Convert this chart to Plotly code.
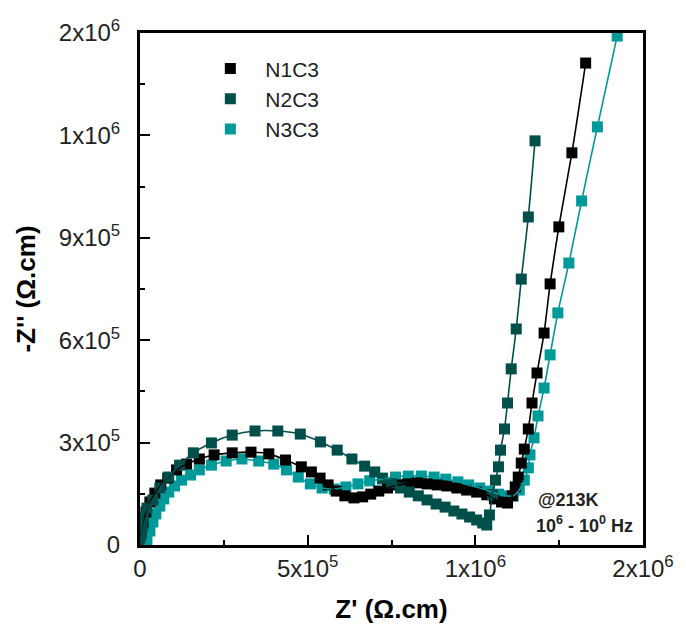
import plotly.graph_objects as go

# ---- data ----
n1_x = [0, 2.95e3, 8.9e3, 1.77e4, 2.95e4, 4.43e4, 6.20e4, 8.27e4, 1.09e5, 1.39e5, 1.77e5, 2.21e5,
        2.75e5, 3.31e5, 3.84e5, 4.34e5, 4.81e5, 5.11e5, 5.37e5, 5.61e5, 5.85e5, 6.11e5, 6.38e5,
        6.64e5, 6.88e5, 7.12e5, 7.38e5, 7.68e5, 7.97e5, 8.27e5, 8.56e5, 8.86e5, 9.15e5, 9.45e5,
        9.74e5, 1.004e6, 1.034e6, 1.057e6, 1.078e6, 1.096e6, 1.110e6, 1.119e6, 1.128e6, 1.137e6,
        1.146e6, 1.158e6, 1.169e6, 1.184e6, 1.205e6, 1.223e6, 1.249e6, 1.288e6, 1.329e6]
n1_y = [0, 2.93e4, 6.45e4, 9.67e4, 1.26e5, 1.52e5, 1.76e5, 1.96e5, 2.20e5, 2.37e5, 2.52e5, 2.64e5,
        2.70e5, 2.72e5, 2.67e5, 2.49e5, 2.29e5, 2.14e5, 1.96e5, 1.76e5, 1.58e5, 1.44e5, 1.38e5,
        1.41e5, 1.49e5, 1.58e5, 1.67e5, 1.76e5, 1.79e5, 1.82e5, 1.79e5, 1.76e5, 1.73e5, 1.67e5,
        1.61e5, 1.55e5, 1.47e5, 1.35e5, 1.26e5, 1.23e5, 1.44e5, 1.70e5, 1.99e5, 2.40e5,
        2.81e5, 3.40e5, 4.16e5, 5.04e5, 6.21e5, 7.65e5, 9.32e5, 1.149e6, 1.412e6]

n2_x = [0, 3.0e3, 5.9e3, 8.9e3, 2.07e4, 3.84e4, 5.91e4, 8.56e4, 1.18e5, 1.59e5, 2.13e5, 2.75e5,
        3.43e5, 4.11e5, 4.78e5, 5.38e5, 5.88e5, 6.32e5, 6.70e5, 7.00e5, 7.23e5, 7.50e5, 7.77e5,
        8.03e5, 8.30e5, 8.56e5, 8.83e5, 9.10e5, 9.36e5, 9.60e5, 9.83e5, 1.004e6, 1.022e6, 1.034e6,
        1.042e6, 1.051e6, 1.060e6, 1.069e6, 1.075e6, 1.087e6, 1.096e6, 1.107e6, 1.122e6, 1.137e6,
        1.158e6, 1.178e6]
n2_y = [0, 2.6e4, 5.27e4, 8.2e4, 1.08e5, 1.32e5, 1.67e5, 1.99e5, 2.34e5, 2.70e5, 2.99e5, 3.22e5,
        3.34e5, 3.34e5, 3.25e5, 3.02e5, 2.78e5, 2.52e5, 2.31e5, 2.14e5, 1.96e5, 1.82e5, 1.67e5,
        1.55e5, 1.44e5, 1.32e5, 1.20e5, 1.11e5, 9.96e4, 9.08e4, 8.20e4, 7.33e4, 6.45e4, 5.86e4,
        8.8e4, 1.47e5, 1.90e5, 2.29e5, 2.78e5, 3.40e5, 4.16e5, 5.16e5, 6.33e5, 7.79e5,
        9.61e5, 1.184e6]

n3_x = [1.48e4, 2.07e4, 2.95e4, 3.84e4, 4.72e4, 5.91e4, 7.09e4, 8.56e4, 1.03e5, 1.24e5, 1.51e5,
        1.77e5, 2.13e5, 2.57e5, 3.04e5, 3.54e5, 3.99e5, 4.37e5, 4.72e5, 5.08e5, 5.43e5, 5.79e5,
        6.14e5, 6.50e5, 6.85e5, 7.23e5, 7.62e5, 8.00e5, 8.39e5, 8.77e5, 9.12e5, 9.48e5, 9.80e5,
        1.013e6, 1.042e6, 1.069e6, 1.093e6, 1.113e6, 1.131e6, 1.146e6, 1.158e6, 1.163e6, 1.175e6,
        1.187e6, 1.205e6, 1.223e6, 1.246e6, 1.279e6, 1.317e6, 1.364e6, 1.423e6]
n3_y = [0, 1.47e4, 4.10e4, 6.74e4, 9.08e4, 1.14e5, 1.35e5, 1.55e5, 1.73e5, 1.90e5, 2.05e5,
        2.20e5, 2.34e5, 2.46e5, 2.52e5, 2.46e5, 2.37e5, 2.20e5, 1.99e5, 1.79e5, 1.67e5, 1.64e5,
        1.70e5, 1.79e5, 1.88e5, 1.93e5, 1.99e5, 2.02e5, 2.02e5, 1.99e5, 1.93e5, 1.85e5, 1.76e5,
        1.67e5, 1.58e5, 1.49e5, 1.44e5, 1.44e5, 1.61e5, 1.90e5, 2.26e5, 2.64e5, 3.14e5,
        3.78e5, 4.60e5, 5.57e5, 6.80e5, 8.26e5, 1.008e6, 1.225e6, 1.491e6]

names = ["N1C3", "N2C3", "N3C3"]
colors = ["#000000", "#004f4a", "#00999a"]

x_tickvals = [0, 5e5, 1e6, 1.5e6]
x_ticktext = ["0", "5x10<sup>5</sup>", "1x10<sup>6</sup>", "2x10<sup>6</sup>"]
y_tickvals = [0, 3e5, 6e5, 9e5, 1.2e6, 1.5e6]
y_ticktext = ["0", "3x10<sup>5</sup>", "6x10<sup>5</sup>", "9x10<sup>5</sup>",
              "1x10<sup>6</sup>", "2x10<sup>6</sup>"]
x_minor = [2.5e5, 7.5e5, 1.25e6]
y_minor = [1.5e5, 4.5e5, 7.5e5, 1.05e6, 1.35e6]

series = {"N1C3": (n1_x, n1_y), "N2C3": (n2_x, n2_y), "N3C3": (n3_x, n3_y)}

FONT = "Arial, Liberation Sans, sans-serif"
fig = go.Figure()

draw_order = ["N3C3", "N1C3", "N2C3"]
for nm in draw_order:
    i = names.index(nm)
    xs, ys = series[nm]
    fig.add_trace(go.Scatter(
        x=xs, y=ys, mode="markers", name=nm, legendrank=i + 1,
        marker=dict(symbol="square", size=11, color=colors[i], line=dict(width=0)),
    ))
for nm in draw_order:
    i = names.index(nm)
    xs, ys = series[nm]
    fig.add_trace(go.Scatter(
        x=xs, y=ys, mode="lines", showlegend=False, hoverinfo="skip",
        line=dict(color=colors[i], width=1.6, shape="spline", smoothing=0.6),
    ))

axis_common = dict(
    showgrid=False, zeroline=False, showline=True, linecolor="black", linewidth=3,
    mirror=True, ticks="inside", ticklen=10, tickwidth=2, tickcolor="black",
    tickfont=dict(family=FONT, size=24, color="#222"), tickmode="array",
)

fig.update_xaxes(
    **axis_common, range=[0, 1.5e6], tickvals=x_tickvals, ticktext=x_ticktext,
    minor=dict(tickmode="array", tickvals=x_minor, ticks="inside", ticklen=5, tickwidth=2,
               tickcolor="black"),
    title=dict(text="<b>Z' (Ω.cm)</b>", font=dict(family=FONT, size=26, color="black"),
               standoff=20),
)
fig.update_yaxes(
    **axis_common, range=[0, 1.5e6], tickvals=y_tickvals, ticktext=y_ticktext,
    ticklabelstandoff=12,
    minor=dict(tickmode="array", tickvals=y_minor, ticks="inside", ticklen=5, tickwidth=2,
               tickcolor="black"),
    title=dict(text="<b>-Z'' (Ω.cm)</b>", font=dict(family=FONT, size=26, color="black"),
               standoff=16),
)

fig.add_annotation(
    xref="paper", yref="paper", x=0.787, y=0.088, xanchor="left", yanchor="middle",
    text="<b>@213K</b>", showarrow=False,
    font=dict(family=FONT, size=18, color="#222"),
)
fig.add_annotation(
    xref="paper", yref="paper", x=0.984, y=0.041, xanchor="right", yanchor="middle",
    text="<b>10<sup>6</sup> - 10<sup>0</sup> Hz</b>", showarrow=False,
    font=dict(family=FONT, size=18, color="#222"),
)

fig.update_layout(
    width=686, height=636,
    margin=dict(l=140, r=38, t=33, b=91),
    paper_bgcolor="white", plot_bgcolor="white",
    showlegend=True,
    legend=dict(x=0.11, y=0.97, xanchor="left", yanchor="top", bgcolor="rgba(0,0,0,0)",
                font=dict(family=FONT, size=21, color="#222"), itemwidth=60,
                traceorder="normal"),
)

fig.write_html("out.html")
